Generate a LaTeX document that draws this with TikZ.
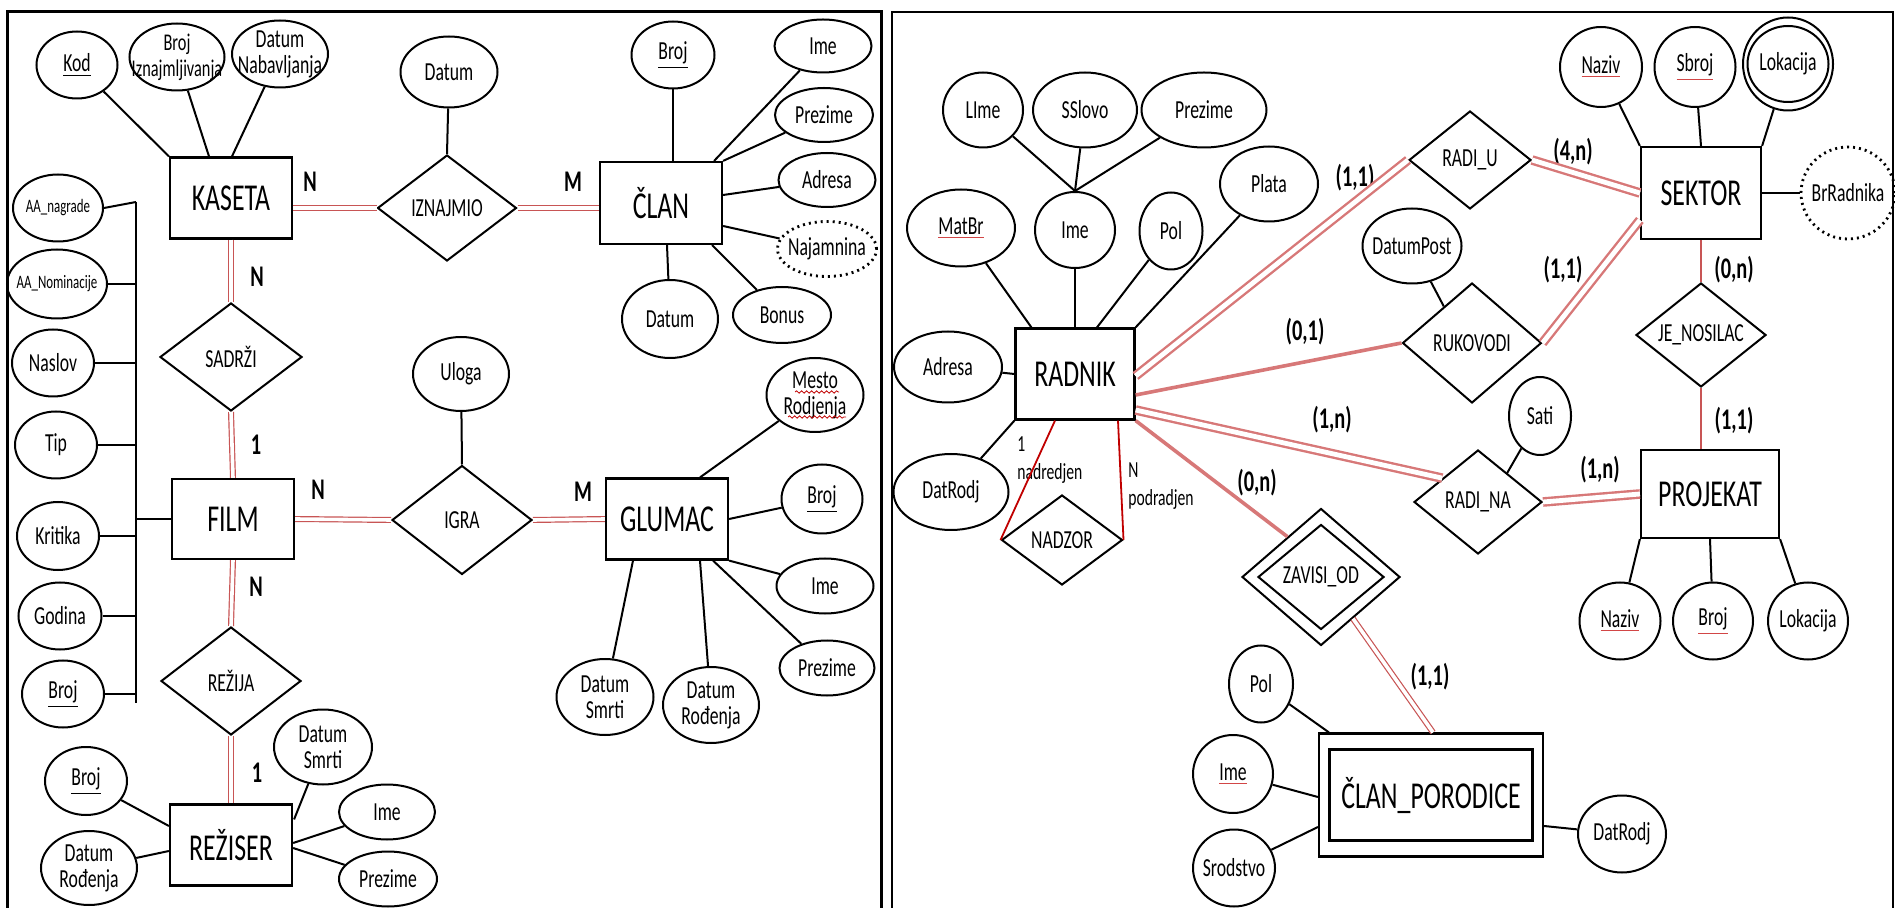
\documentclass[tikz,border=0pt]{standalone}
\usepackage{fontspec}
\setmainfont{Carlito}[FakeStretch=0.68]
\usetikzlibrary{shapes.geometric,positioning,calc,decorations.pathmorphing}
\definecolor{vezcrv}{RGB}{200,85,85}
\definecolor{vezsvetla}{RGB}{215,120,120}
\definecolor{tamnocrv}{RGB}{192,0,0}
\definecolor{ulcrv}{RGB}{210,70,70}
\newcommand\entf{\fontsize{19}{21}\selectfont}
\newcommand\atrf{\fontsize{13}{13}\selectfont}
\newcommand\malif{\fontsize{9.5}{10}\selectfont}
\newcommand\kardf{\bfseries\fontsize{15}{16}\selectfont}
\newcommand\rul[1]{\textcolor{ulcrv}{\underline{\textcolor{black}{#1}}}}
\tikzset{
  sz/.style 2 args={minimum width=#1*0.5pt,minimum height=#2*0.5pt},
  entitet/.style={rectangle,draw,line width=1.1pt,inner sep=0pt,font=\entf},
  atribut/.style={ellipse,draw,line width=1pt,inner xsep=-8pt,inner ysep=-6pt,align=center,font=\atrf},
  veza/.style={diamond,draw,line width=1pt,inner sep=-4pt,font=\atrf},
  izv/.style={atribut,dotted,line width=1.4pt},
  kard/.style={inner sep=0pt,font=\kardf},
  dvez/.style={draw=vezcrv,double=white,double distance=1.8pt,line width=0.6pt},
  tvez/.style={draw=vezsvetla,double=white,double distance=2.4pt,line width=1.2pt},
  svez/.style={draw=vezsvetla,line width=1.8pt},
  jvez/.style={draw=vezcrv,line width=0.8pt},
  spoj/.style={line width=1pt}
}

\begin{document}
\begin{tikzpicture}[x=0.5pt,y=-0.5pt]
	\useasboundingbox (0,0) rectangle (1895,908);
	\draw[line width=1.5pt] (7,908) -- (7,12) -- (881,12) -- (881,908);
	\draw[line width=1pt] (892,908) -- (892,12) -- (1893,12) -- (1893,908);

	% levi dijagram
	\node[entitet,sz={122}{81}] (kaseta) at (231,198) {KASETA};
	\node[atribut,sz={81}{67}] (kod) at (77,65) {\underline{Kod}};
	\node[atribut,sz={95}{67},font=\fontsize{12}{13}\selectfont] (brojizn) at (177,57) {Broj\\Iznajmljivanja};
	\node[atribut,sz={96}{67}] (datumnab) at (280,54) {Datum\\Nabavljanja};
	\node[veza,sz={139}{106}] (iznajmio) at (447,208) {IZNAJMIO};
	\node[atribut,sz={97}{71}] (datumizn) at (449,72) {Datum};
	\node[entitet,sz={122}{82}] (clan) at (661,203) {ČLAN};
	\node[atribut,sz={83}{67}] (brojc) at (673,55) {\underline{Broj}};
	\node[atribut,sz={97}{53}] (imec) at (823,46) {Ime};
	\node[atribut,sz={98}{54}] (prezimec) at (824,115) {Prezime};
	\node[atribut,sz={97}{54}] (adresac) at (827,180) {Adresa};
	\node[izv,sz={99}{55}] (najam) at (827,249) {Najamnina};
	\node[atribut,sz={98}{56}] (bonus) at (782,315) {Bonus};
	\node[atribut,sz={96}{78}] (datumc) at (670,319) {Datum};
	\node[veza,sz={142}{108}] (sadrzi) at (231,357) {SADRŽI};
	\node[entitet,sz={122}{80}] (film) at (233,519) {FILM};
	\node[atribut,sz={90}{67},font=\malif] (aanagrade) at (58,208) {AA\_nagrade};
	\node[atribut,sz={100}{69},font=\malif] (aanom) at (57,284) {AA\_Nominacije};
	\node[atribut,sz={82}{67}] (naslov) at (53,363) {Naslov};
	\node[atribut,sz={82}{67}] (tip) at (56,445) {Tip};
	\node[atribut,sz={82}{68}] (kritika) at (58,536) {Kritika};
	\node[atribut,sz={83}{67}] (godina) at (60,616) {Godina};
	\node[atribut,sz={82}{67}] (brojf) at (63,694) {\underline{Broj}};
	\node[veza,sz={140}{109}] (igra) at (462,520) {IGRA};
	\node[atribut,sz={96}{74}] (uloga) at (461,374) {Uloga};
	\node[entitet,sz={122}{81}] (glumac) at (667,519) {GLUMAC};
	\node[atribut,sz={97}{74}] (mesto) at (815,395) {Mesto\\Rodjenja};
	\node[atribut,sz={81}{69}] (brojg) at (822,499) {\underline{Broj}};
	\node[atribut,sz={97}{55}] (imeg) at (825,586) {Ime};
	\node[atribut,sz={95}{55}] (prezg) at (827,668) {Prezime};
	\node[atribut,sz={97}{76}] (dsmrtig) at (605,697) {Datum\\Smrti};
	\node[atribut,sz={96}{76}] (drodjg) at (711,705) {Datum\\Rođenja};
	\node[veza,sz={140}{108}] (rezija) at (231,681) {REŽIJA};
	\node[entitet,sz={122}{81}] (reziser) at (231,845) {REŽISER};
	\node[atribut,sz={82}{68}] (brojr) at (86,781) {\underline{Broj}};
	\node[atribut,sz={96}{74}] (drodjr) at (89,868) {Datum\\Rođenja};
	\node[atribut,sz={98}{75}] (dsmrtir) at (323,747) {Datum\\Smrti};
	\node[atribut,sz={96}{55}] (imer) at (387,812) {Ime};
	\node[atribut,sz={98}{55}] (prezr) at (388,879) {Prezime};

	\node[kard] (k1) at (310,182) {N};
	\node[kard] (k2) at (573,182) {M};
	\node[kard] (k3) at (257,277) {N};
	\node[kard] (k4) at (256,445) {1};
	\node[kard] (k5) at (318,490) {N};
	\node[kard] (k6) at (583,492) {M};
	\node[kard] (k7) at (256,587) {N};
	\node[kard] (k8) at (257,773) {1};

	\draw[spoj] (kod) -- (kaseta.north west);
	\draw[spoj] (brojizn) -- ($(kaseta.north)+(-22,0)$);
	\draw[spoj] (datumnab) -- ($(kaseta.north)+(1,0)$);
	\draw[spoj] (datumizn) -- (iznajmio.north);
	\draw[spoj] (brojc.south) -- (brojc.south |- clan.north);
	\draw[spoj] (imec) -- ($(clan.north east)+(-9,0)$);
	\draw[spoj] (prezimec) -- (clan.north east);
	\draw[spoj] (adresac) -- ($(clan.east)+(0,-8)$);
	\draw[spoj] (najam) -- ($(clan.east)+(0,23)$);
	\draw[spoj] (bonus) -- ($(clan.south east)+(-11,0)$);
	\draw[spoj] (datumc) -- ($(clan.south)+(6,0)$);
	\coordinate (busg) at (136,202);
	\coordinate (busd) at (136,703);
	\draw[spoj] (busg) -- (busd);
	\draw[spoj] (aanagrade.east) -- (busg);
	\draw[spoj] (aanom.east) -- (aanom.east -| busg);
	\draw[spoj] (naslov.east) -- (naslov.east -| busg);
	\draw[spoj] (tip.east) -- (tip.east -| busg);
	\draw[spoj] (kritika.east) -- (kritika.east -| busg);
	\draw[spoj] (godina.east) -- (godina.east -| busg);
	\draw[spoj] (brojf.east) -- (brojf.east -| busg);
	\draw[spoj] (film.west) -- (film.west -| busg);
	\draw[spoj] (uloga) -- (igra.north);
	\draw[spoj] (mesto) -- ($(glumac.north)+(33,0)$);
	\draw[spoj] (brojg) -- (glumac.east);
	\draw[spoj] (imeg) -- (glumac.south east);
	\draw[spoj] (prezg) -- ($(glumac.south)+(46,0)$);
	\draw[spoj] (dsmrtig) -- ($(glumac.south)+(-34,0)$);
	\draw[spoj] (drodjg) -- ($(glumac.south)+(33,0)$);
	\draw[spoj] (brojr) -- ($(reziser.west)+(0,-19)$);
	\draw[spoj] (drodjr) -- ($(reziser.west)+(0,6)$);
	\draw[spoj] (dsmrtir) -- ($(reziser.north east)+(1,16)$);
	\draw[spoj] (imer) -- ($(reziser.east)+(0,-2)$);
	\draw[spoj] (prezr) -- ($(reziser.east)+(0,3)$);
	\draw[tamnocrv,decorate,decoration={snake,amplitude=0.6pt,segment length=2.5pt}] ($(mesto)+(-20,-3)$) -- ($(mesto)+(24,-3)$);
	\draw[tamnocrv,decorate,decoration={snake,amplitude=0.6pt,segment length=2.5pt}] ($(mesto)+(-27,22)$) -- ($(mesto)+(31,22)$);

	\draw[dvez] (iznajmio.west -| kaseta.east) -- (iznajmio.west);
	\draw[dvez] (iznajmio.east) -- (iznajmio.east -| clan.west);
	\draw[dvez] (kaseta.south) -- (sadrzi.north);
	\draw[dvez] (sadrzi.south) -- (film.north);
	\draw[dvez] (film.east) -- (igra.west);
	\draw[dvez] (igra.east) -- (glumac.west);
	\draw[dvez] (film.south) -- (rezija.north);
	\draw[dvez] (rezija.south) -- (reziser.north);

	% desni dijagram
	\node[entitet,sz={119}{91}] (radnik) at (1075,374) {RADNIK};
	\node[atribut,sz={108}{77}] (matbr) at (961,228) {\rul{MatBr}};
	\node[atribut,sz={80}{76}] (ime2) at (1075,230) {Ime};
	\node[atribut,sz={63}{77}] (pol) at (1171,231) {Pol};
	\node[atribut,sz={98}{75}] (plata) at (1269,184) {Plata};
	\node[atribut,sz={80}{75}] (lime) at (983,110) {LIme};
	\node[atribut,sz={104}{75}] (sslovo) at (1085,110) {SSlovo};
	\node[atribut,sz={125}{75}] (prezime2) at (1204,110) {Prezime};
	\node[atribut,sz={108}{71}] (adresa) at (948,367) {Adresa};
	\node[atribut,sz={115}{76}] (datrodj) at (951,492) {DatRodj};
	\node[veza,sz={121}{90}] (nadzor) at (1062,540) {NADZOR};
	\node[veza,sz={122}{98}] (radiu) at (1470,160) {RADI\_U};
	\node[entitet,sz={120}{92}] (sektor) at (1701,193) {SEKTOR};
	\node[atribut,sz={82}{80}] (naziv) at (1601,67) {\rul{Naziv}};
	\node[atribut,sz={81}{80}] (sbroj) at (1695,67) {\rul{Sbroj}};
	\node[atribut,sz={90}{93}] (lokacija) at (1788,64) {};
	\node[atribut,sz={81}{76}] (lokacijau) at (lokacija) {Lokacija};
	\node[izv,sz={94}{92}] (brradnika) at (1848,193) {BrRadnika};
	\node[atribut,sz={99}{75}] (datumpost) at (1412,246) {DatumPost};
	\node[veza,sz={139}{120}] (rukovodi) at (1472,343) {RUKOVODI};
	\node[veza,sz={130}{104}] (jenosilac) at (1701,335) {JE\_NOSILAC};
	\node[entitet,sz={138}{88}] (projekat) at (1710,494) {PROJEKAT};
	\node[veza,sz={128}{104}] (radina) at (1478,502) {RADI\_NA};
	\node[atribut,sz={62}{78}] (sati) at (1540,416) {Sati};
	\node[veza,sz={158}{137}] (zavisi) at (1321,577) {};
	\node[veza,sz={126}{105}] (zavisiu) at (zavisi) {ZAVISI\_OD};
	\node[entitet,sz={224}{123}] (clanp) at (1431,795) {};
	\node[entitet,sz={203}{91}] (clanpu) at (clanp) {ČLAN\_PORODICE};
	\node[atribut,sz={64}{77}] (polc) at (1261,684) {Pol};
	\node[atribut,sz={80}{78}] (imec2) at (1233,774) {\rul{Ime}};
	\node[atribut,sz={82}{77}] (srod) at (1234,868) {Srodstvo};
	\node[atribut,sz={88}{77}] (datrodj2) at (1622,834) {DatRodj};
	\node[atribut,sz={81}{77}] (nazivp) at (1620,621) {\rul{Naziv}};
	\node[atribut,sz={80}{77}] (brojp) at (1713,621) {\rul{Broj}};
	\node[atribut,sz={80}{77}] (lokp) at (1808,621) {Lokacija};

	\node[kard] (k9) at (1355,178) {(1,1)};
	\node[kard] (k10) at (1573,152) {(4,n)};
	\node[kard] (k11) at (1305,332) {(0,1)};
	\node[kard] (k12) at (1563,270) {(1,1)};
	\node[kard] (k13) at (1734,270) {(0,n)};
	\node[kard] (k14) at (1734,421) {(1,1)};
	\node[kard] (k15) at (1332,420) {(1,n)};
	\node[kard] (k16) at (1600,470) {(1,n)};
	\node[kard] (k17) at (1257,483) {(0,n)};
	\node[kard] (k18) at (1430,677) {(1,1)};
	\node[anchor=west,align=left,inner sep=0pt,font=\fontsize{11.5}{14}\selectfont] (nadr) at (1017,460) {1\\nadredjen};
	\node[anchor=west,align=left,inner sep=0pt,font=\fontsize{11.5}{14}\selectfont] (podr) at (1128,486) {N\\podradjen};

	\draw[spoj] (lime) -- (ime2.north);
	\draw[spoj] (sslovo) -- (ime2.north);
	\draw[spoj] (prezime2) -- (ime2.north);
	\draw[spoj] (matbr) -- ($(radnik.north west)+(17,0)$);
	\draw[spoj] (ime2) -- (radnik.north);
	\draw[spoj] (pol) -- ($(radnik.north)+(22,0)$);
	\draw[spoj] (plata) -- (radnik.north east);
	\draw[spoj] (adresa) -- (radnik.west);
	\draw[spoj] (datrodj) -- (radnik.south west);
	\draw[spoj] (naziv) -- (sektor.north west);
	\draw[spoj] (sbroj) -- (sektor.north);
	\draw[spoj] (lokacija) -- (sektor.north east);
	\draw[spoj] (brradnika) -- (sektor.east);
	\draw[spoj] (datumpost) -- ($(rukovodi.west)!0.6!(rukovodi.north)$);
	\draw[spoj] (sati) -- ($(radina.north)!0.45!(radina.east)$);
	\draw[spoj] (nazivp) -- (projekat.south west);
	\draw[spoj] (brojp) -- (projekat.south);
	\draw[spoj] (lokp) -- (projekat.south east);
	\draw[spoj] (polc) -- ($(clanp.north west)+(11,0)$);
	\draw[spoj] (imec2) -- ($(clanp.west)+(0,2)$);
	\draw[spoj] (srod) -- ($(clanp.west)+(0,32)$);
	\draw[spoj] (datrodj2) -- ($(clanp.east)+(0,31)$);

	\draw[tamnocrv,line width=0.9pt] ($(radnik.south)+(-20,0)$) -- (nadzor.west);
	\draw[tamnocrv,line width=0.9pt] ($(radnik.south)+(43,0)$) -- (nadzor.east);
	\draw[tvez] ($(radnik.east)+(0,2)$) -- (radiu.west);
	\draw[tvez] (radiu.east) -- (sektor.west);
	\draw[svez] ($(radnik.east)+(0,21)$) -- (rukovodi.west);
	\draw[tvez] (rukovodi.east) -- ($(sektor.west)+(0,27)$);
	\draw[tvez] ($(radnik.east)+(0,36)$) -- ($(radina.west)!0.45!(radina.north)$);
	\draw[tvez] (radina.east) -- (projekat.west);
	\draw[svez] (radnik.south east) -- ($(zavisi.west)!0.58!(zavisi.north)$);
	\draw[dvez] ($(zavisi.south)!0.4!(zavisi.east)$) -- ($(clanp.north)+(2,0)$);
	\draw[jvez] (sektor.south) -- (jenosilac.north);
	\draw[jvez] (jenosilac.south) -- (jenosilac.south |- projekat.north);
\end{tikzpicture}
\end{document}
